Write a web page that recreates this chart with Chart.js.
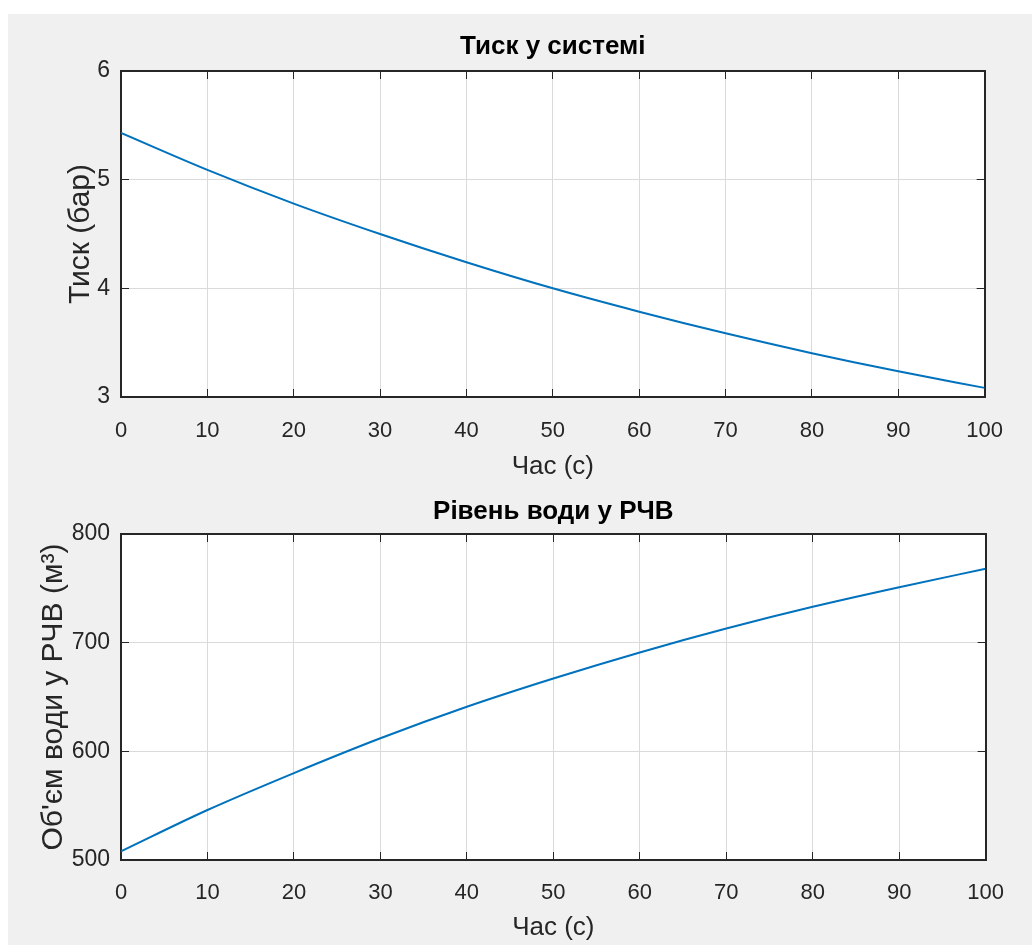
<!DOCTYPE html>
<html>
<head>
<meta charset="utf-8">
<script src="https://cdn.jsdelivr.net/npm/chart.js@4.4.1/dist/chart.umd.min.js"></script>
<style>
  body { margin: 0; background: #ffffff; }
  #fig { position: absolute; left: 8px; top: 14px; width: 1024px; height: 931px; background: #f0f0f0; }
  canvas { position: absolute; left: 0; }
  #c1 { top: 0; }
  #c2 { top: 474px; }
</style>
</head>
<body>
<div id="fig">
  <canvas id="c1" width="1024" height="474"></canvas>
  <canvas id="c2" width="1024" height="457"></canvas>
</div>
<script>
// дані, зчитані з графіків
const time = [0, 10, 20, 30, 40, 50, 60, 70, 80, 90, 100];
const pressure = [5.43, 5.09, 4.78, 4.50, 4.24, 4.00, 3.785, 3.586, 3.403, 3.236, 3.084];
const volume = [508, 546, 580, 612, 641, 667, 691, 713, 733, 751, 768];
const xTicks = [0, 10, 20, 30, 40, 50, 60, 70, 80, 90, 100];
const pressureTicks = [3, 4, 5, 6];
const volumeTicks = [500, 600, 700, 800];

const FONT = '"Liberation Sans", Arial, Helvetica, sans-serif';
const AX = '#262626';
const GRID = '#dadada';
const LINE = '#0072BD';

// білий фон області графіка
const whiteArea = {
  id: 'whiteArea',
  beforeDraw(chart) {
    const { ctx, chartArea: a } = chart;
    ctx.save();
    ctx.fillStyle = '#ffffff';
    ctx.fillRect(a.left, a.top, a.right - a.left, a.bottom - a.top);
    ctx.restore();
  }
};

function makeChart(id, ys, yTicks, opts) {
  const yMin = yTicks[0], yMax = yTicks[yTicks.length - 1];
  const yStep = yTicks[1] - yTicks[0];
  const hiddenAxis = (pos, min, max, step) => ({
    type: 'linear', position: pos, min: min, max: max,
    ticks: { display: false, stepSize: step },
    grid: { drawOnChartArea: false, tickLength: -8, tickColor: AX, tickWidth: 1 },
    border: { display: true, color: AX, width: 2 },
    afterFit(s) { if (pos === 'top') s.height = 0; else s.width = 0; }
  });
  return new Chart(document.getElementById(id), {
    type: 'line',
    data: {
      datasets: [{
        data: time.map((t, i) => ({ x: t, y: ys[i] })),
        borderColor: LINE,
        borderWidth: 2,
        pointRadius: 0,
        fill: false,
        cubicInterpolationMode: 'monotone'
      }]
    },
    options: {
      responsive: false,
      animation: false,
      layout: { padding: { left: 0, right: 44, top: 0, bottom: 0 } },
      plugins: {
        legend: { display: false },
        tooltip: { enabled: false },
        title: {
          display: true,
          text: opts.title,
          fullSize: false,
          color: '#000000',
          font: { family: FONT, size: 26, weight: 'bold', lineHeight: 1.2 },
          padding: opts.titlePad
        }
      },
      scales: {
        x: {
          type: 'linear', position: 'bottom', min: 0, max: 100,
          afterBuildTicks(s) { s.ticks = xTicks.map(v => ({ value: v })); },
          ticks: { color: AX, padding: opts.xTickPad, font: { family: FONT, size: 22 } },
          grid: { color: GRID, lineWidth: 1, tickLength: -8, tickColor: AX, tickWidth: 1 },
          border: { display: true, color: AX, width: 2 },
          title: {
            display: true, text: 'Час (с)', color: AX,
            font: { family: FONT, size: 26, lineHeight: 1.2 },
            padding: { top: 0, bottom: opts.xTitlePad }
          },
          afterFit(s) { s.height = opts.xHeight; }
        },
        y: {
          type: 'linear', position: 'left', min: yMin, max: yMax,
          afterBuildTicks(s) { s.ticks = yTicks.map(v => ({ value: v })); },
          ticks: { color: AX, padding: 19, font: { family: FONT, size: 23 } },
          grid: { color: GRID, lineWidth: 1, tickLength: -8, tickColor: AX, tickWidth: 1 },
          border: { display: true, color: AX, width: 2 },
          title: {
            display: true, text: opts.yTitle, color: AX,
            font: { family: FONT, size: 30, lineHeight: 1.2 },
            padding: { top: opts.yTitlePad, bottom: 0 }
          },
          afterFit(s) { s.width = 113; }
        },
        x2: hiddenAxis('top', 0, 100, 10),
        y2: hiddenAxis('right', yMin, yMax, yStep)
      }
    },
    plugins: [whiteArea]
  });
}

makeChart('c1', pressure, pressureTicks, {
  title: 'Тиск у системі',
  titlePad: { top: 17.4, bottom: 8.4 },
  xTickPad: 29,
  xTitlePad: 5.4,
  xHeight: 91,
  yTitle: 'Тиск (бар)',
  yTitlePad: 55
});

makeChart('c2', volume, volumeTicks, {
  title: 'Рівень води у РЧВ',
  titlePad: { top: 8.4, bottom: 6.4 },
  xTickPad: 28,
  xTitlePad: 1.4,
  xHeight: 85,
  yTitle: 'Об\'єм води у РЧВ (м³)',
  yTitlePad: 28
});
</script>
</body>
</html>
